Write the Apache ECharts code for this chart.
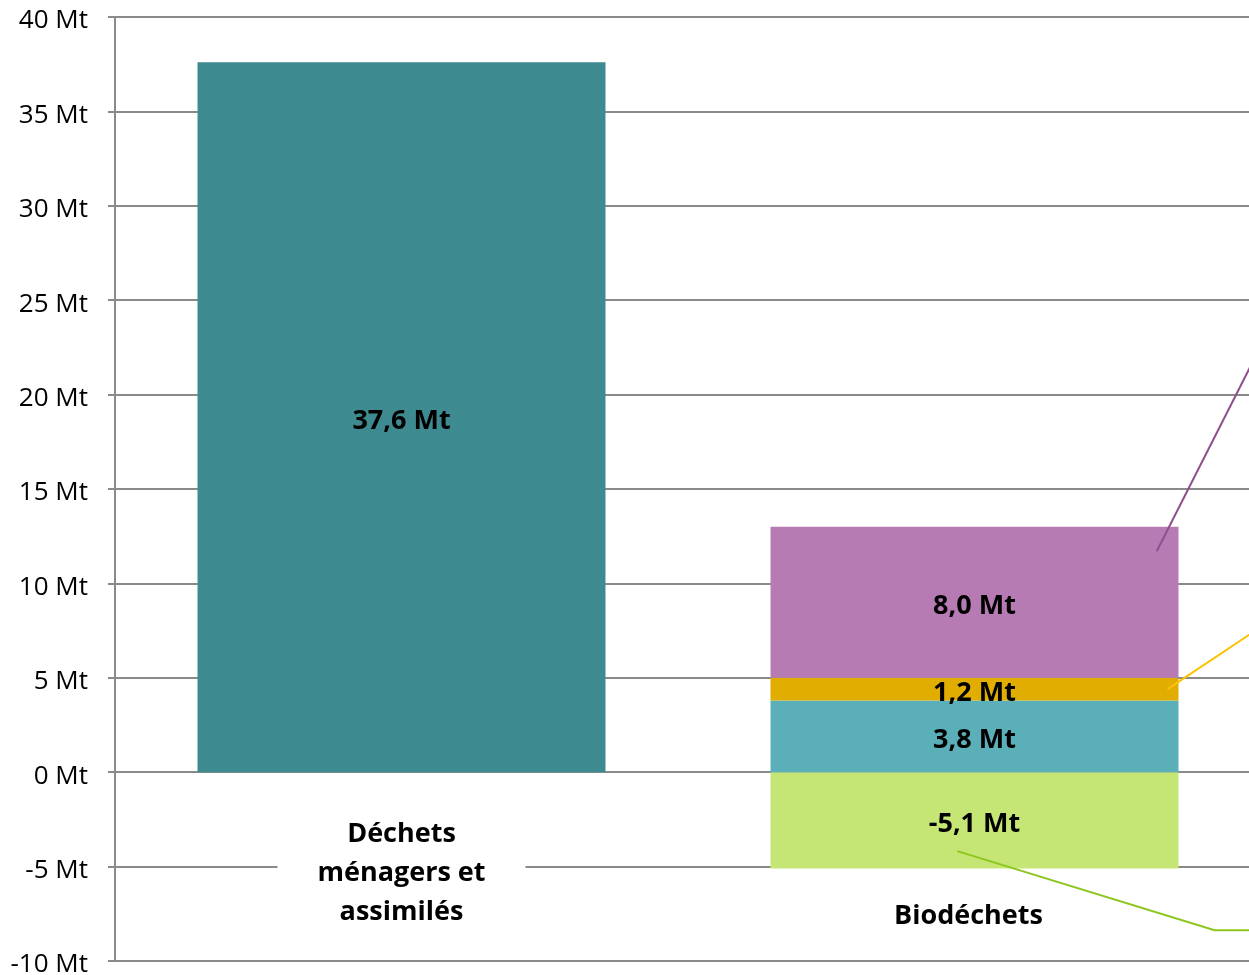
<!DOCTYPE html>
<html>
<head>
<meta charset="utf-8">
<script src="https://cdn.jsdelivr.net/npm/echarts@6/dist/echarts.min.js"></script>
<style>
  html, body { margin: 0; padding: 0; background: #fff; }
  #chart { width: 1249px; height: 975px; }
</style>
</head>
<body>
<div id="chart"></div>
<script>
// categories + values (Mt)
var categories = ['Déchets\nménagers et\nassimilés', 'Biodéchets'];
var dechetsMenagers = [37.6, null];
var bioVert = [null, -5.1];
var bioBleu = [null, 3.8];
var bioJaune = [null, 1.2];
var bioViolet = [null, 8.0];

var police = '"Open Sans", "Noto Sans", sans-serif';

function fmtMt(p) {
    return p.value.toFixed(1).replace('.', ',') + ' Mt';
}

function serie(nom, data, couleur) {
    return {
        name: nom,
        type: 'bar',
        stack: 'total',
        data: data,
        barWidth: '71.2%',
        itemStyle: { color: couleur },
        label: {
            show: true,
            position: 'inside',
            offset: [0, 4],
            formatter: fmtMt,
            color: '#000',
            fontFamily: police,
            fontWeight: 'bold',
            fontSize: 27
        }
    };
}

var dom = document.getElementById('chart');
var myChart = echarts.init(dom, null, { renderer: 'canvas' });

var option = {
    animation: false,
    backgroundColor: '#fff',
    grid: {
        left: 115,
        top: 17,
        bottom: 14,
        right: -12,
        outerBoundsMode: 'none',
        containLabel: false
    },
    xAxis: {
        type: 'category',
        data: categories,
        axisLine: { onZero: false, lineStyle: { color: '#8a8a8a', width: 2 } },
        axisTick: { show: false },
        axisLabel: {
            inside: true,
            interval: 0,
            margin: 29,
            color: '#000',
            fontFamily: police,
            fontWeight: 'bold',
            fontSize: 27,
            lineHeight: 39,
            width: 248,
            backgroundColor: '#fff',
            formatter: function (v, i) {
                return i === 1 ? '{b|' + v + '}' : v;
            },
            rich: {
                b: {
                    color: '#000',
                    fontFamily: police,
                    fontWeight: 'bold',
                    fontSize: 27,
                    lineHeight: 31,
                    padding: [0, 12, 0, 0]
                }
            }
        }
    },
    yAxis: {
        type: 'value',
        min: -10,
        max: 40,
        interval: 5,
        axisLine: { show: true, lineStyle: { color: '#8a8a8a', width: 2 } },
        axisTick: { show: true, length: 7, lineStyle: { color: '#8a8a8a', width: 2 } },
        axisLabel: {
            formatter: function (v) { return '{t|' + v + ' Mt}'; },
            margin: 27,
            rich: {
                t: {
                    color: '#000',
                    fontFamily: police,
                    fontSize: 26,
                    padding: [8, 0, 0, 0]
                }
            }
        },
        splitLine: { lineStyle: { color: '#8a8a8a', width: 2 } }
    },
    series: [
        serie('Déchets ménagers et assimilés', dechetsMenagers, '#3d8a91'),
        serie('Biodéchets (-)', bioVert, '#c5e675'),
        serie('Biodéchets 1', bioBleu, '#5aafb9'),
        serie('Biodéchets 2', bioJaune, '#e0ad00'),
        serie('Biodéchets 3', bioViolet, '#b67bb3')
    ]
};
myChart.setOption(option);

// traits de rappel vers les étiquettes (hors cadre à droite)
var c1 = myChart.convertToPixel({ xAxisIndex: 0 }, 1);
var c0 = myChart.convertToPixel({ xAxisIndex: 0 }, 0);
var bande = c1 - c0;
function pt(dx, v) {
    return [c1 + dx * bande, myChart.convertToPixel({ yAxisIndex: 0 }, v)];
}
myChart.setOption({
    graphic: [
        { type: 'polyline', z: 100, shape: { points: [pt(0.318, 11.7), pt(0.5, 22.6)] },
          style: { stroke: '#8e4f8c', lineWidth: 2, fill: null } },
        { type: 'polyline', z: 100, shape: { points: [pt(0.337, 4.4), pt(0.5, 7.7)] },
          style: { stroke: '#ffc000', lineWidth: 2, fill: null } },
        { type: 'polyline', z: 100, shape: { points: [pt(-0.03, -4.18), pt(0.419, -8.37), pt(0.5, -8.37)] },
          style: { stroke: '#8cc61e', lineWidth: 2, fill: null } }
    ]
});
</script>
</body>
</html>
